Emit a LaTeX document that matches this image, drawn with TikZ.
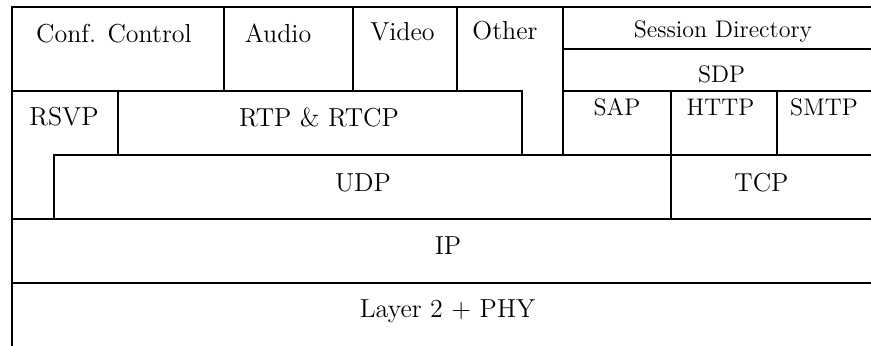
\documentclass[tikz,border=0pt]{standalone}
\usepackage{tikz}

\tikzset{
  big/.style={anchor=base,inner sep=0pt,font=\fontsize{13}{15}\selectfont},
  small/.style={anchor=base,inner sep=0pt,font=\fontsize{12}{14}\selectfont}
}

\begin{document}
\begin{tikzpicture}[x=0.5pt,y=-0.5pt,line width=1pt,line cap=rect]
\useasboundingbox (0,0) rectangle (871,345);
\clip (0,0) rectangle (871,345);
% outer edges
\draw (880,7) -- (12,7) -- (12,360);
% rows
\draw (12,90.5) -- (522,90.5);
\draw (563,49) -- (880,49);
\draw (563,90.5) -- (880,90.5);
\draw (54,154.5) -- (880,154.5);
\draw (12,218.5) -- (880,218.5);
\draw (12,282.5) -- (880,282.5);
% columns
\draw (224,7) -- (224,90.5);
\draw (353,7) -- (353,90.5);
\draw (457,7) -- (457,90.5);
\draw (563,7) -- (563,154.5);
\draw (117.5,90.5) -- (117.5,154.5);
\draw (522,90.5) -- (522,154.5);
\draw (777,90.5) -- (777,154.5);
\draw (671,90.5) -- (671,218.5);
\draw (54,154.5) -- (54,218.5);
% labels
\node[big] (conf) at (114,42) {Conf. Control};
\node[big] (audio) at (278,42) {Audio};
\node[big] (video) at (402.5,40) {Video};
\node[big] (other) at (505,39) {Other};
\node[small] (sd) at (723,37) {Session Directory};
\node[small] (sdp) at (721.5,82) {SDP};
\node[big] (rsvp) at (64,125) {RSVP};
\node[big] (rtp) at (319,126) {RTP \& RTCP};
\node[small] (sap) at (617,115) {SAP};
\node[small] (http) at (720.5,115) {HTTP};
\node[small] (smtp) at (824,115) {SMTP};
\node[big] (udp) at (363,191) {UDP};
\node[big] (tcp) at (761.5,191) {TCP};
\node[big] (ip) at (448,254) {IP};
\node[big] (phy) at (447.5,317) {Layer 2 + PHY};
\end{tikzpicture}
\end{document}
